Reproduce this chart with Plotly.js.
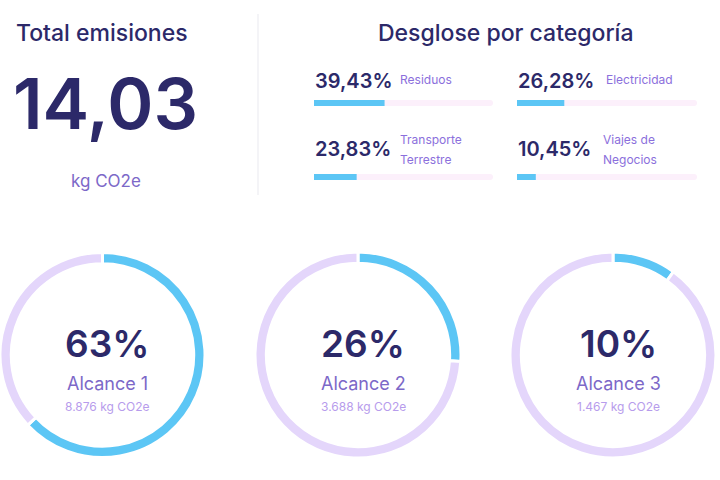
<!DOCTYPE html>
<html>
<head>
<meta charset="utf-8">
<script src="https://cdn.plot.ly/plotly-3.0.1.min.js"></script>
<style>
  html, body { margin: 0; padding: 0; background: #ffffff; }
  #chart { width: 720px; height: 480px; }
</style>
</head>
<body>
<div id="chart"></div>
<script>
// Emissions summary: total, breakdown by category, and share by scope
const totalValue = 14.03;
const totalUnit = "kg CO2e";

const categories = ["Residuos", "Electricidad", "Transporte<br>Terrestre", "Viajes de<br>Negocios"];
const categoryPct = [39.43, 26.28, 23.83, 10.45];

const scopes = ["Alcance 1", "Alcance 2", "Alcance 3"];
const scopePct = [63, 26, 10];
const scopeKg = ["8.876", "3.688", "1.467"];

const NAVY = "#2c2969";
const PURPLE = "#7c68c8";
const LILAC = "#b79cec";
const BLUE = "#5cc6f5";
const RING = "#e4d6fb";
const TRACK = "#fcf0fb";
const FONT = "Inter, 'Noto Sans', sans-serif";

const W = 720, H = 480;
const px = x => x / W;
const py = y => 1 - y / H;

const fmtPct = v => v.toFixed(2).replace(".", ",") + "%";

const data = [];
const annotations = [];
const layout = {
  width: W, height: H,
  margin: {l: 0, r: 0, t: 0, b: 0},
  paper_bgcolor: "#ffffff",
  plot_bgcolor: "rgba(0,0,0,0)",
  showlegend: false,
  barmode: "overlay",
  barcornerradius: 3,
  font: {family: FONT, color: NAVY},
  shapes: [{
    type: "line", xref: "paper", yref: "paper",
    x0: px(258), x1: px(258), y0: py(14), y1: py(195),
    line: {color: "#f1f0f5", width: 1.5}
  }],
  annotations: annotations
};

function label(text, x, y, size, color, weight, anchor) {
  annotations.push({
    text: text, xref: "paper", yref: "paper",
    x: px(x), y: py(y), xanchor: anchor || "center", yanchor: "middle",
    showarrow: false,
    font: {family: FONT, size: size, color: color, weight: weight || 400}
  });
}

// Total block
label("Total emisiones", 102, 33, 23, NAVY, 500);
label(totalValue.toFixed(2).replace(".", ","), 105, 103, 70, NAVY, 600);
label(totalUnit, 106, 181, 17, PURPLE);

// Category breakdown
label("Desglose por categoría", 506, 33, 23, NAVY, 500);

const colX = [314, 517];
const colW = [179, 180];
const rowBarY = [103, 177];
const rowTextY = [81, 149];
const nameX = [398, 604, 398, 601];

categories.forEach((cat, i) => {
  const col = i % 2, row = Math.floor(i / 2);
  const ax = i + 2;
  layout["xaxis" + ax] = {
    domain: [px(colX[col]), px(colX[col] + colW[col])],
    range: [0, 100], visible: false, fixedrange: true, anchor: "y" + ax
  };
  layout["yaxis" + ax] = {
    domain: [py(rowBarY[row] + 3), py(rowBarY[row] - 3)],
    range: [-0.5, 0.5], visible: false, fixedrange: true, anchor: "x" + ax
  };
  // track
  data.push({
    type: "bar", orientation: "h", x: [100], y: [0], width: 1,
    xaxis: "x" + ax, yaxis: "y" + ax,
    marker: {color: TRACK}, hoverinfo: "skip"
  });
  // value
  data.push({
    type: "bar", orientation: "h", x: [categoryPct[i]], y: [0], width: 1,
    xaxis: "x" + ax, yaxis: "y" + ax,
    marker: {color: BLUE}, hoverinfo: "skip"
  });

  label(fmtPct(categoryPct[i]), colX[col] - 1, rowTextY[row], 20, NAVY, 600, "left");
  const lines = cat.split("<br>");
  lines.forEach((ln, k) => {
    const y = lines.length === 1 ? rowTextY[row] - 1 : rowTextY[row] - 10 + k * 20;
    label(ln, nameX[i], y, 12, "#8b6fdc", 400, "left");
  });
});

// Scope donuts
const ringCX = [102, 358, 613];
const ringCY = 355;
const ringR = 103;

scopes.forEach((s, i) => {
  const cx = ringCX[i];
  data.push({
    type: "pie",
    values: [scopePct[i], 100 - scopePct[i]],
    labels: [s, "resto"],
    sort: false,
    direction: "clockwise",
    rotation: 0,
    hole: 0.89,
    textinfo: "none",
    hoverinfo: "skip",
    marker: {colors: [BLUE, RING], line: {color: "#ffffff", width: 3}},
    domain: {
      x: [Math.max(0, px(cx - ringR)), px(cx + ringR)],
      y: [py(ringCY + ringR), py(ringCY - ringR)]
    }
  });
  label(scopePct[i] + "%", cx + 5, 343, 37, NAVY, 600);
  label(s, cx + 5, 383, 18, PURPLE);
  label(scopeKg[i] + " kg CO2e", cx + 5, 406, 12, LILAC);
});

Plotly.newPlot("chart", data, layout, {staticPlot: true, displayModeBar: false});
</script>
</body>
</html>
